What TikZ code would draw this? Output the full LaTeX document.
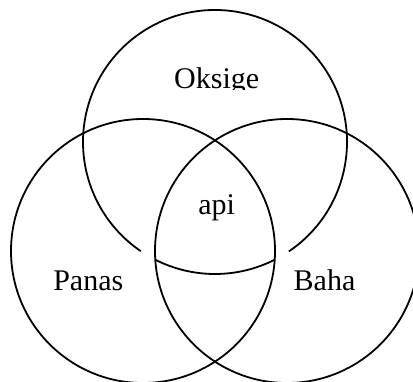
\documentclass[tikz,border=0pt]{standalone}
\usepackage{fontspec}
\setmainfont{Liberation Serif}
\usepackage{tikz}
\tikzset{ring/.style={line width=1.8pt},
  word/.style={anchor=base,inner sep=0pt,font=\fontsize{30}{36}\selectfont}}

\begin{document}
\begin{tikzpicture}[x=1pt,y=1pt]
\clip (0,0) rectangle (413,381);
\coordinate (ctop) at (215,239);
\coordinate (cleft) at (143,130);
\coordinate (cright) at (287,130);
% the two lower circles
\draw [ring] (cleft) circle [radius=132pt];
\draw [ring] (cright) circle [radius=132pt];
% upper circle, broken where it meets the lower ones
\draw [ring] ([shift={(304:132pt)}]ctop) arc [start angle=304,end angle=595.8,radius=132pt];
\draw [ring] ([shift={(243:132pt)}]ctop) arc [start angle=243,end angle=297,radius=132pt];
\begin{scope}
\clip (0,291.7) rectangle (413,381);
\node [word] (oksige) at (216.7,292.8) {Oksige};
\end{scope}
\node [word] (api) at (216.7,166.7) {api};
\node [word] (panas) at (88.3,91) {Panas};
\node [word] (baha) at (324.5,91) {Baha};
\end{tikzpicture}
\end{document}
